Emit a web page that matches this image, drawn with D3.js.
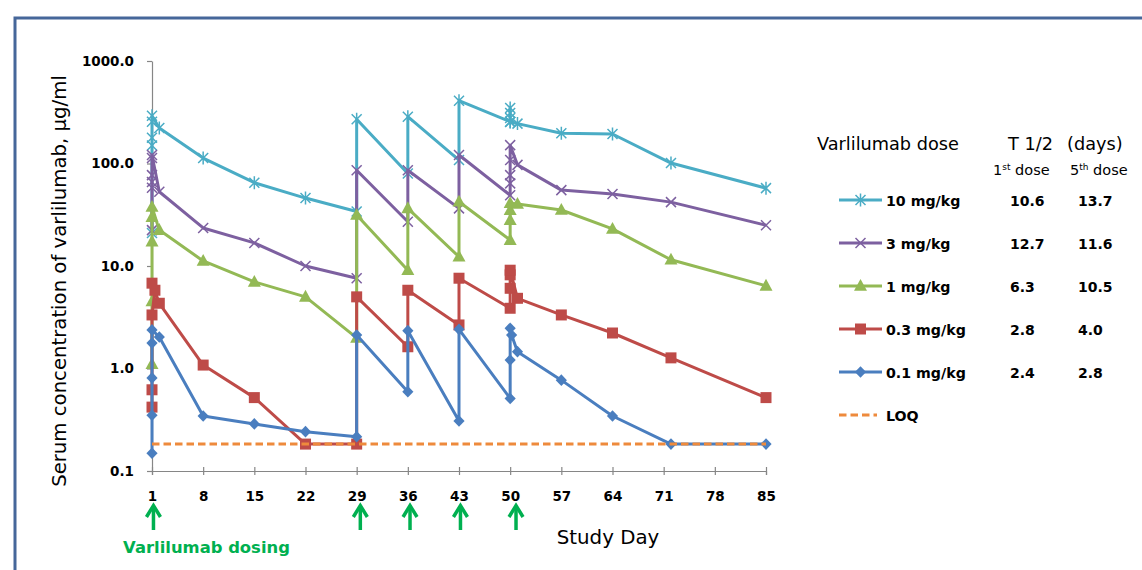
<!DOCTYPE html>
<html><head><meta charset="utf-8">
<script src="https://cdn.jsdelivr.net/npm/d3@7"></script>
<style>body{margin:0;background:#fff;} svg{display:block;font-family:"DejaVu Sans",sans-serif;}</style>
</head><body>
<svg id="chart" width="1142" height="570"></svg>
<script>
// ---------- data ----------
const xTicks = [1, 8, 15, 22, 29, 36, 43, 50, 57, 64, 71, 78, 85];
const yTicks = [0.1, 1, 10, 100, 1000];
const seriesNames = ["10 mg/kg", "3 mg/kg", "1 mg/kg", "0.3 mg/kg", "0.1 mg/kg"];
const halfLifeFirst = ["10.6", "12.7", "6.3", "2.8", "2.4"];
const halfLifeFifth = ["13.7", "11.6", "10.5", "4.0", "2.8"];

const days10 = [1, 1, 1, 1, 1, 2, 8, 15, 22, 29, 29, 36, 36, 43, 43, 50, 50, 50, 50, 50, 51, 57, 64, 72, 85];
const conc10 = [21, 150, 178, 255, 292, 222, 113, 65, 46, 34, 270, 80, 286, 108, 410, 256, 348, 311, 278, 254, 245, 197, 194, 101, 57.5];

const days3 = [1, 1, 1, 1, 1, 1, 2, 8, 15, 22, 29, 29, 36, 36, 43, 43, 50, 50, 50, 50, 50, 51, 57, 64, 72, 85];
const conc3 = [22.4, 58, 66, 77, 113, 121, 53, 23.5, 16.8, 10, 7.6, 86, 27, 86, 36.5, 121, 49, 64, 77, 108, 151, 97, 55, 50.4, 42, 25];

const days1 = [1, 1, 1, 1, 1, 2, 8, 15, 22, 29, 29, 36, 36, 43, 43, 50, 50, 50, 50, 51, 57, 64, 72, 85];
const conc1 = [1.1, 4.5, 17.3, 30, 37.7, 22.4, 11.2, 7.0, 5.0, 1.99, 31.5, 9.1, 36.5, 12.3, 42.4, 17.9, 28, 35, 41, 40.3, 35.2, 23, 11.5, 6.4];

const days03 = [1, 1, 1, 1.4, 1, 2, 8, 15, 22, 29, 29, 36, 36, 43, 43, 50, 50, 50, 50, 51, 57, 64, 72, 85];
const conc03 = [0.42, 0.62, 3.33, 5.8, 6.8, 4.33, 1.08, 0.52, 0.183, 0.183, 5.0, 1.63, 5.8, 2.66, 7.6, 3.87, 6.06, 8.2, 9.1, 4.84, 3.33, 2.22, 1.27, 0.52];

const days01 = [1, 1, 1, 1, 1, 2, 8, 15, 22, 29, 29, 36, 36, 43, 43, 50, 50, 50, 50.2, 51, 57, 64, 72, 85];
const conc01 = [0.149, 0.35, 0.81, 1.77, 2.38, 2.03, 0.344, 0.288, 0.242, 0.216, 2.12, 0.594, 2.34, 0.307, 2.41, 0.51, 1.21, 2.47, 2.12, 1.46, 0.77, 0.344, 0.183, 0.183];

const loqValue = 0.183;
const loqRange = [1, 85];
const dosingDays = [1.2, 29.5, 36.3, 43.2, 50.8];

const colors = ["#4AACC5", "#7D60A0", "#93B955", "#BE4B48", "#4A7EBF"];
const loqColor = "#EE8A3C";
const markerKinds = ["star", "x", "triangle", "square", "diamond"];

const seriesDays = [days10, days3, days1, days03, days01];
const seriesConc = [conc10, conc3, conc1, conc03, conc01];

// ---------- layout ----------
const svg = d3.select("#chart");
const x = d3.scaleLinear().domain([1, 85]).range([152, 766]);
const y = d3.scaleLog().domain([0.1, 1000]).range([471, 61]);

// frame
svg.append("rect").attr("x", 15).attr("y", 18).attr("width", 1300).attr("height", 700)
  .attr("fill", "none").attr("stroke", "#46679A").attr("stroke-width", 3);

const axisColor = "#868686";

// y axis
const yAxis = svg.append("g").attr("transform", "translate(152,0)")
  .call(d3.axisLeft(y).tickValues(yTicks).tickFormat(d3.format(".1f")).tickSize(5).tickSizeOuter(0).tickPadding(13));
yAxis.select(".domain").attr("stroke", axisColor).attr("stroke-width", 1.2);
yAxis.selectAll(".tick line").attr("stroke", axisColor).attr("stroke-width", 1.2);
yAxis.selectAll(".tick text").attr("font-family", "DejaVu Sans").attr("font-weight", "bold")
  .attr("font-size", 13.5).attr("fill", "#000");

// x axis
const xAxis = svg.append("g").attr("transform", "translate(0,471)")
  .call(d3.axisBottom(x).tickValues(xTicks).tickFormat(d3.format("d")).tickSizeOuter(0).tickSize(4));
xAxis.select(".domain").attr("stroke", axisColor).attr("stroke-width", 1.2);
xAxis.selectAll(".tick line").attr("stroke", axisColor).attr("stroke-width", 1.2).attr("y1", -4).attr("y2", 4);
xAxis.selectAll(".tick text").attr("font-family", "DejaVu Sans").attr("font-weight", "bold")
  .attr("font-size", 13.5).attr("fill", "#000").attr("y", 25).attr("dy", "0.36em");

// marker path generator
function markerPath(kind) {
  switch (kind) {
    case "star": return "M-5,-5L5,5M-5,5L5,-5M0,-6.5L0,6.5";
    case "x": return "M-5,-5L5,5M-5,5L5,-5";
    case "triangle": return "M0,-7L6.5,4.8L-6.5,4.8Z";
    case "square": return "M-5.5,-5.5H5.5V5.5H-5.5Z";
    case "diamond": return "M0,-5.8L5.6,0L0,5.8L-5.6,0Z";
  }
}
function drawMarker(g, kind, color, cx, cy) {
  const p = g.append("path").attr("d", markerPath(kind)).attr("transform", `translate(${cx},${cy})`);
  if (kind === "star" || kind === "x") {
    p.attr("fill", "none").attr("stroke", color).attr("stroke-width", 1.5);
  } else {
    p.attr("fill", color).attr("stroke", "none");
  }
}

const line = d3.line().x(d => x(d.day)).y(d => y(d.v));

const plot = svg.append("g");
seriesNames.forEach((name, i) => {
  const pts = seriesDays[i].map((d, k) => ({ day: d, v: seriesConc[i][k] }));
  const g = plot.append("g");
  g.append("path").datum(pts).attr("d", line).attr("fill", "none")
    .attr("stroke", colors[i]).attr("stroke-width", 3).attr("stroke-linejoin", "round");
  pts.forEach(p => drawMarker(g, markerKinds[i], colors[i], x(p.day), y(p.v)));
});

// LOQ
svg.append("line").attr("x1", x(loqRange[0])).attr("x2", x(loqRange[1]))
  .attr("y1", y(loqValue)).attr("y2", y(loqValue))
  .attr("stroke", loqColor).attr("stroke-width", 3).attr("stroke-dasharray", "7.5,4");

// dosing arrows
const arrowColor = "#00B050";
dosingDays.forEach(d => {
  const ax = x(d);
  svg.append("line").attr("x1", ax).attr("x2", ax).attr("y1", 506).attr("y2", 530)
    .attr("stroke", arrowColor).attr("stroke-width", 3.5);
  svg.append("path").attr("d", `M${ax - 7},${517}L${ax},${505.5}L${ax + 7},${517}`)
    .attr("fill", "none").attr("stroke", arrowColor).attr("stroke-width", 3.5);
});
svg.append("text").attr("x", 206.5).attr("y", 553).attr("text-anchor", "middle")
  .attr("font-weight", "bold").attr("font-size", 16.4).attr("fill", arrowColor).text("Varlilumab dosing");

// axis titles
svg.append("text").attr("x", 608).attr("y", 544).attr("text-anchor", "middle")
  .attr("font-size", 19.8).attr("fill", "#000").text("Study Day");
const yTitle = svg.append("text").attr("transform", "translate(66,281) rotate(-90)")
  .attr("text-anchor", "middle").attr("font-size", 18).attr("fill", "#000")
  .text("Serum concentration of varlilumab, \u03bcg/ml");
const len = yTitle.node().getComputedTextLength();
yTitle.attr("font-size", 18 * 412 / len);

// legend
const lg = svg.append("g");
lg.append("text").attr("x", 817).attr("y", 150).attr("font-size", 17.7).text("Varlilumab dose");
lg.append("text").attr("x", 1008).attr("y", 150).attr("font-size", 17.7).text("T 1/2");
lg.append("text").attr("x", 1067).attr("y", 150).attr("font-size", 17.7).text("(days)");
function doseHeader(xp, num, sup) {
  const t = lg.append("text").attr("x", xp).attr("y", 175).attr("font-size", 14.5);
  t.append("tspan").text(num);
  t.append("tspan").attr("font-size", 9).attr("dy", -5.5).text(sup);
  t.append("tspan").attr("dy", 5.5).text(" dose");
}
doseHeader(993, "1", "st");
doseHeader(1070, "5", "th");

const rowY = d3.scalePoint().domain(d3.range(6)).range([200, 415]);
seriesNames.forEach((name, i) => {
  const cy = rowY(i);
  lg.append("line").attr("x1", 839).attr("x2", 882).attr("y1", cy).attr("y2", cy)
    .attr("stroke", colors[i]).attr("stroke-width", 3);
  drawMarker(lg, markerKinds[i], colors[i], 860.5, cy);
  lg.append("text").attr("x", 886).attr("y", cy + 5.5).attr("font-weight", "bold").attr("font-size", 14.2).text(name);
  lg.append("text").attr("x", 1010).attr("y", cy + 5.5).attr("font-weight", "bold").attr("font-size", 14).text(halfLifeFirst[i]);
  lg.append("text").attr("x", 1078).attr("y", cy + 5.5).attr("font-weight", "bold").attr("font-size", 14).text(halfLifeFifth[i]);
});
const loqY = rowY(5);
lg.append("line").attr("x1", 839).attr("x2", 877).attr("y1", loqY).attr("y2", loqY)
  .attr("stroke", loqColor).attr("stroke-width", 3).attr("stroke-dasharray", "7.5,4");
lg.append("text").attr("x", 886).attr("y", loqY + 5.5).attr("font-weight", "bold").attr("font-size", 14.2).text("LOQ");
</script>
</body></html>
